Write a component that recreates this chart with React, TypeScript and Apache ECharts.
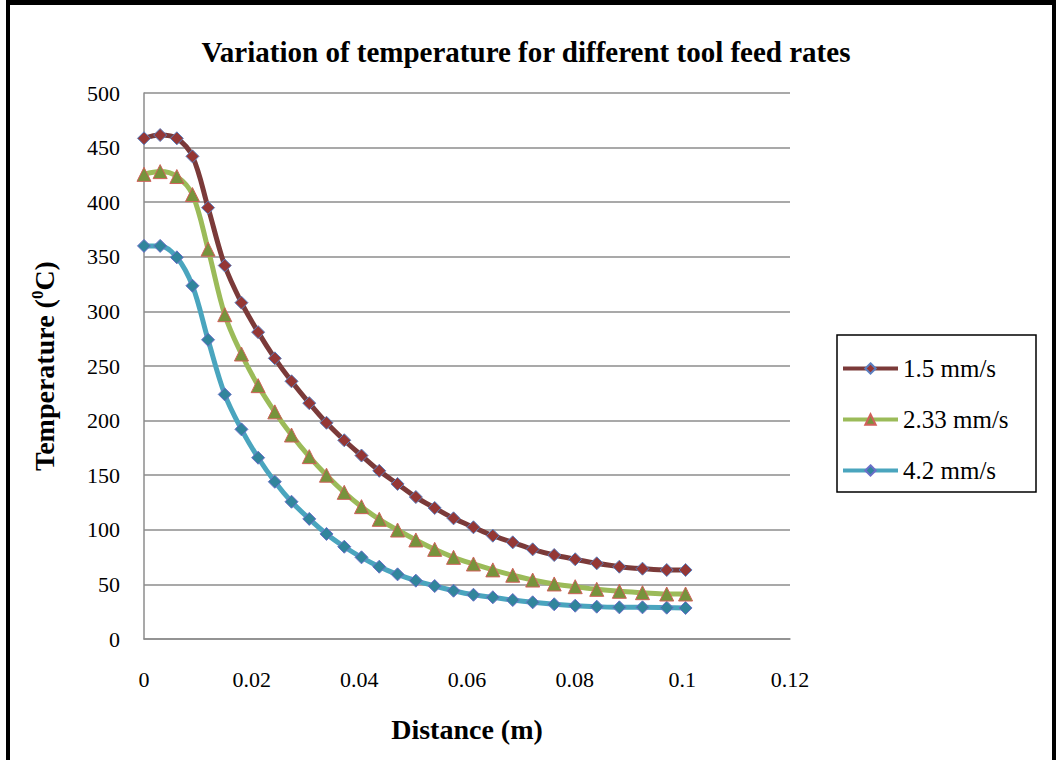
import React, { useEffect, useRef } from "react";
import * as echarts from "echarts";

const distance = [
  0, 0.003, 0.0061, 0.009, 0.0119, 0.015, 0.0181, 0.0212, 0.0243, 0.0274,
  0.0307, 0.0339, 0.0372, 0.0404, 0.0437, 0.0471, 0.0505, 0.054, 0.0575, 0.0612,
  0.0648, 0.0685, 0.0722, 0.0762, 0.0801, 0.0841, 0.0883, 0.0926, 0.0971, 0.1006,
];
const temp15 = [
  458.5, 461.5, 458.5, 442, 395, 342, 308, 281, 257, 236,
  216, 198, 182, 168, 154, 142, 130, 120, 110.5, 102.3,
  94.6, 88.5, 82.1, 76.9, 73, 69.3, 66.2, 64.4, 63.2, 63.2,
];
const temp233 = [
  425.5, 428, 423.5, 407, 357, 297, 261, 232, 208, 186.8,
  167, 150, 134.3, 121.2, 109.6, 99.8, 90.7, 82.1, 74.8, 68.7,
  63.3, 58.4, 54, 50.4, 47.9, 45.5, 43.7, 42.4, 41.2, 41.2,
];
const temp42 = [
  360, 360, 349.5, 323.5, 274, 224, 192, 166, 144, 125.7,
  110, 96.2, 84.5, 74.8, 66.2, 59.2, 53.4, 48.5, 44.2, 40.5,
  38.2, 35.7, 33.6, 31.8, 30.5, 29.6, 29, 29, 28.7, 28.4,
];
const seriesNames = ["1.5 mm/s", "2.33 mm/s", "4.2 mm/s"];

const SERIF = "'Liberation Serif', 'Times New Roman', serif";

export default function App() {
  const ref = useRef<HTMLDivElement>(null);
  useEffect(() => {
    const chart = echarts.init(ref.current!, null, { renderer: "svg" });
    const pairs = (ys: number[]) => distance.map((d, i) => [d, ys[i]]);
    chart.setOption({
      animation: false,
      backgroundColor: "#ffffff",
      title: {
        text: "Variation of temperature for different tool feed rates",
        left: 521,
        top: 32,
        textAlign: "center",
        textStyle: { fontFamily: SERIF, fontWeight: "bold", fontSize: 29, color: "#000" },
      },
      grid: { left: 144, top: 93, right: 270, bottom: 121, containLabel: false },
      legend: {
        orient: "vertical",
        left: 841,
        top: 356,
        padding: 0,
        itemWidth: 55,
        itemHeight: 13,
        itemGap: 26,
        lineStyle: { width: 4 },
        textStyle: { fontFamily: SERIF, fontSize: 25, color: "#000" },
        data: seriesNames,
      },
      graphic: [
        { type: "rect", shape: { x: 6, y: 0, width: 1050, height: 5 }, style: { fill: "#000" } },
        { type: "rect", shape: { x: 6, y: 0, width: 4, height: 760 }, style: { fill: "#000" } },
        { type: "rect", shape: { x: 1052, y: 0, width: 4, height: 760 }, style: { fill: "#000" } },
        {
          type: "rect",
          shape: { x: 837, y: 335, width: 199, height: 157 },
          style: { fill: "none", stroke: "#000", lineWidth: 1.5 },
        },
      ],
      xAxis: {
        type: "value",
        min: 0,
        max: 0.12,
        interval: 0.02,
        name: "Distance (m)",
        nameLocation: "middle",
        nameGap: 76,
        nameTextStyle: { fontFamily: SERIF, fontWeight: "bold", fontSize: 28, color: "#000" },
        axisLine: { show: true, lineStyle: { color: "#8c8c8c", width: 1.5 } },
        axisTick: { show: false },
        splitLine: { show: false },
        axisLabel: {
          margin: 29,
          fontFamily: SERIF,
          fontSize: 22,
          color: "#000",
          formatter: (v: number) => String(parseFloat(v.toFixed(2))),
        },
      },
      yAxis: {
        type: "value",
        min: 0,
        max: 500,
        interval: 50,
        name: "{a|Temperature (}{s|0}{a|C)}",
        nameLocation: "middle",
        nameGap: 84,
        nameTextStyle: {
          rich: {
            a: { fontFamily: SERIF, fontWeight: "bold", fontSize: 28, color: "#000" },
            s: { fontFamily: SERIF, fontWeight: "bold", fontSize: 17, color: "#000", padding: [0, 0, 14, 0] },
          },
        },
        axisLine: { show: true, lineStyle: { color: "#8c8c8c", width: 1.5 } },
        axisTick: { show: false },
        splitLine: { show: true, lineStyle: { color: "#8c8c8c", width: 1.5 } },
        axisLabel: { margin: 24, fontFamily: SERIF, fontSize: 22, color: "#000" },
      },
      series: [
        {
          name: seriesNames[0],
          type: "line",
          smooth: 0.35,
          data: pairs(temp15),
          symbol: "diamond",
          symbolSize: 13,
          lineStyle: { color: "#7B3A39", width: 5 },
          itemStyle: { color: "#953735", borderColor: "#5B7FC0", borderWidth: 1 },
          z: 3,
        },
        {
          name: seriesNames[1],
          type: "line",
          smooth: 0.35,
          data: pairs(temp233),
          symbol: "triangle",
          symbolSize: 14,
          lineStyle: { color: "#9BBB59", width: 5 },
          itemStyle: { color: "#77933C", borderColor: "#D0605A", borderWidth: 1 },
          z: 2,
        },
        {
          name: seriesNames[2],
          type: "line",
          smooth: 0.35,
          data: pairs(temp42),
          symbol: "diamond",
          symbolSize: 13,
          lineStyle: { color: "#4AA5BE", width: 5 },
          itemStyle: { color: "#31859C", borderColor: "#6A6FC8", borderWidth: 1 },
          z: 1,
        },
      ],
    });
    return () => chart.dispose();
  }, []);
  return (
    <div
      ref={ref}
      style={{ position: "fixed", left: 0, top: 0, width: 1060, height: 760, background: "#fff" }}
    />
  );
}
